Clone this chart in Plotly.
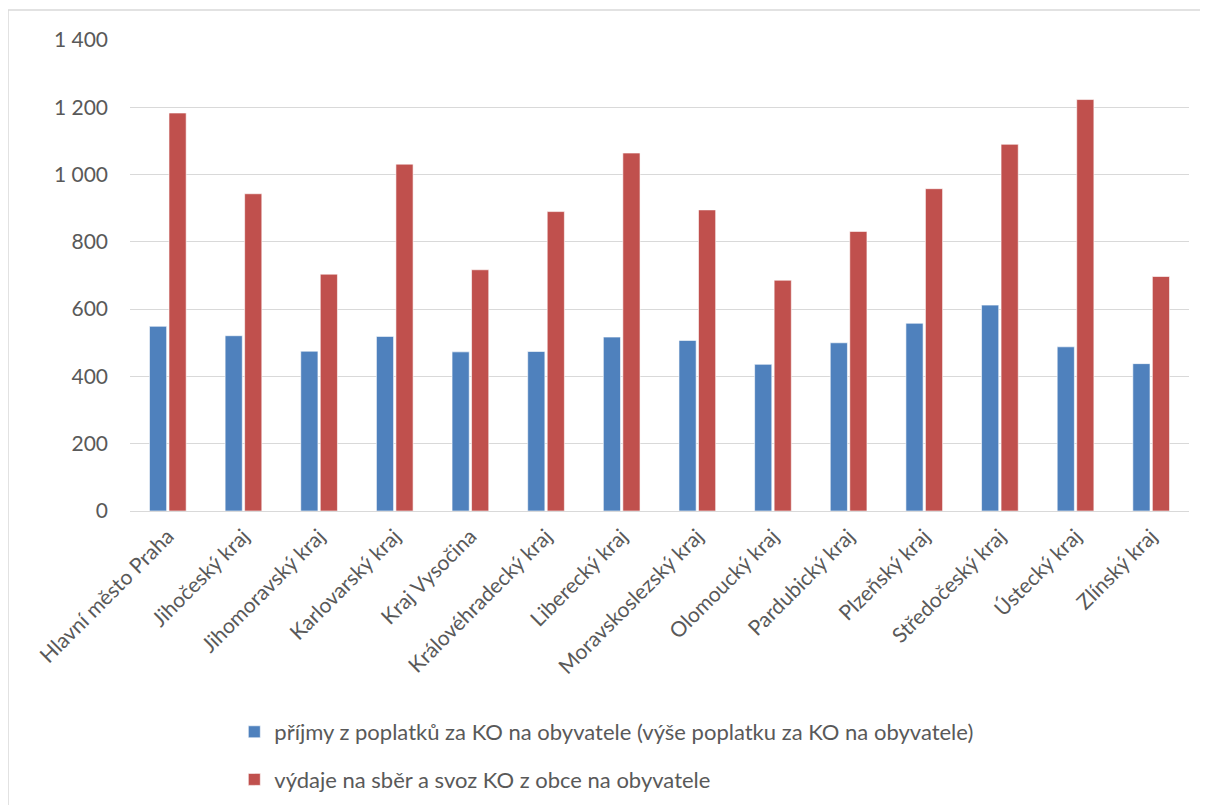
import plotly.graph_objects as go

categories = ["Hlavní město Praha", "Jihočeský kraj", "Jihomoravský kraj", "Karlovarský kraj",
              "Kraj Vysočina", "Královéhradecký kraj", "Liberecký kraj", "Moravskoslezský kraj",
              "Olomoucký kraj", "Pardubický kraj", "Plzeňský kraj", "Středočeský kraj",
              "Ústecký kraj", "Zlínský kraj"]
prijmy = [549, 521, 475, 519, 473, 474, 517, 507, 436, 500, 558, 612, 488, 438]
vydaje = [1183, 943, 704, 1031, 717, 890, 1064, 895, 686, 831, 958, 1090, 1223, 697]
series_names = ["příjmy z poplatků za KO na obyvatele (výše poplatku za KO na obyvatele)",
                "výdaje na sběr a svoz KO z obce na obyvatele"]
tick_vals = [0, 200, 400, 600, 800, 1000, 1200, 1400]
tick_text = ["0", "200", "400", "600", "800", "1 000", "1 200", "1 400"]

FONT = "Lato, Open Sans, sans-serif"
GRAY = "#595959"

W, H = 1200, 797
L, R, T, B = 122, 19, 32, 294
PW, PH = W - L - R, H - T - B

fig = go.Figure()
fig.add_trace(go.Bar(x=categories, y=prijmy, name=series_names[0], legendgroup="a",
                     marker=dict(color="#4f81bd", line=dict(color="#ffffff", width=0.6))))
fig.add_trace(go.Bar(x=categories, y=vydaje, name=series_names[1], legendgroup="b",
                     marker=dict(color="#c0504d", line=dict(color="#ffffff", width=0.6))))

fig.update_layout(
    width=W, height=H,
    margin=dict(l=L, r=R, t=T, b=B, autoexpand=False),
    paper_bgcolor="white", plot_bgcolor="white",
    barmode="group", bargap=0.484, bargroupgap=0.12,
    font=dict(family=FONT, size=21, color=GRAY),
    legend=dict(orientation="v", x=0.0985, y=-0.4246, xanchor="left", yanchor="top",
                font=dict(family=FONT, size=22, color=GRAY), tracegroupgap=16,
                itemwidth=30),
    xaxis=dict(tickangle=-45, showgrid=False, showline=False, ticks="", automargin=False,
               ticklabelstandoff=8,
               tickfont=dict(family=FONT, size=21, color=GRAY)),
    yaxis=dict(range=[0, 1400], tickvals=tick_vals, ticktext=tick_text, automargin=False,
               showgrid=True, gridcolor="#d9d9d9", gridwidth=1.3,
               zeroline=True, zerolinecolor="#d9d9d9", zerolinewidth=1.3,
               showline=False, ticks="", ticklabelstandoff=21,
               tickfont=dict(family=FONT, size=21, color=GRAY)),
    shapes=[dict(type="rect", xref="paper", yref="paper",
                 x0=(0 - L) / PW, x1=1.2,
                 y0=-1.0, y1=(T + PH - 2) / PH,
                 line=dict(color="#d9d9d9", width=1.5), fillcolor="rgba(0,0,0,0)", layer="below")],
)

fig.write_html("out.html")
